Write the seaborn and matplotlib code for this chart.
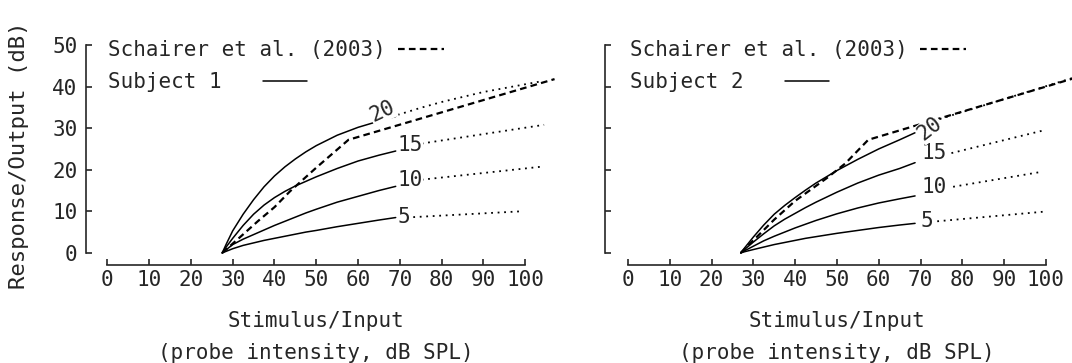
import matplotlib
matplotlib.use("Agg")
import matplotlib.pyplot as plt
import seaborn as sns
import pandas as pd
from matplotlib.lines import Line2D

# ---------------- data ----------------
levels = ["5", "10", "15", "20"]

# Subject 1 (left panel) - solid input/output curves
s1_x = [27.5, 28.5, 30, 32.5, 35, 37.5, 40, 42.5, 45, 47.5, 50, 55, 60, 65, 69]
s1_5 = [0, 0.4, 1.0, 1.8, 2.4, 3.0, 3.5, 4.0, 4.5, 5.0, 5.4, 6.3, 7.1, 7.9, 8.5]
s1_10 = [0, 0.8, 2.0, 3.3, 4.4, 5.5, 6.6, 7.6, 8.6, 9.6, 10.5, 12.2, 13.6, 15.0, 16.0]
s1_15 = [0, 1.5, 3.5, 6.6, 9.3, 11.5, 13.3, 14.8, 16.1, 17.2, 18.3, 20.3, 22.1, 23.5, 24.5]
s1_20 = [0, 2.2, 5.3, 9.3, 12.8, 15.9, 18.5, 20.7, 22.6, 24.3, 25.8, 28.3, 30.2, 31.7, 32.8]

# Subject 1 - dotted extrapolations
s1_dot5_x, s1_dot5_y = [73.2, 99.1], [8.6, 10.0]
s1_dot10_x, s1_dot10_y = [75.2, 104.5], [17.6, 20.8]
s1_dot15_x, s1_dot15_y = [75.2, 104.5], [26.3, 30.8]
s1_dot20_x, s1_dot20_y = [69.5, 75, 80.4, 90, 104], [33.2, 34.9, 36.4, 38.7, 41.3]

# Schairer et al. (2003) reference, left panel
sch1_x = [27.5, 32, 36, 40, 43.7, 50, 57.7, 107]
sch1_y = [0, 4.0, 7.6, 11.0, 14.8, 20.5, 27.2, 41.8]

# Subject 2 (right panel)
s2_x = [27, 28, 30, 32.5, 35, 37.5, 40, 42.5, 45, 47.5, 50, 55, 60, 65, 68.7]
s2_5 = [0, 0.3, 0.8, 1.4, 2.0, 2.5, 3.0, 3.5, 3.9, 4.3, 4.7, 5.4, 6.1, 6.7, 7.1]
s2_10 = [0, 0.55, 1.6, 2.9, 4.0, 5.0, 6.0, 6.9, 7.8, 8.6, 9.4, 10.8, 12.0, 13.0, 13.7]
s2_15 = [0, 0.9, 2.6, 4.6, 6.5, 8.1, 9.5, 10.9, 12.2, 13.4, 14.6, 16.8, 18.7, 20.3, 21.7]
s2_20 = [0, 1.3, 3.8, 6.7, 9.3, 11.4, 13.3, 15.1, 16.8, 18.3, 19.8, 22.5, 25.0, 27.2, 28.9]

s2_dot5_x, s2_dot5_y = [74.0, 99.4], [7.6, 9.9]
s2_dot10_x, s2_dot10_y = [77.8, 99.0], [15.9, 19.5]
s2_dot15_x, s2_dot15_y = [77.4, 100.0], [24.0, 29.6]
s2_dot20_x, s2_dot20_y = [74.6, 110], [32.2, 43.2]

sch2_x = [27, 35, 40, 47.6, 52, 57.5, 110]
sch2_y = [0, 8.0, 12.5, 18.0, 21.5, 27.2, 43.0]

# curve-label positions (x, y, rotation)
s1_lab = {"5": (70.9, 8.6, 0), "10": (72.4, 17.5, 0), "15": (72.4, 26.0, 0), "20": (65.8, 34.0, 25)}
s2_lab = {"5": (71.6, 7.6, 0), "10": (73.2, 15.9, 0), "15": (73.2, 24.0, 0), "20": (72.2, 29.8, 38)}

xticks = list(range(0, 101, 10))
yticks = list(range(0, 51, 10))

# ---------------- style ----------------
sns.set_style("ticks")
plt.rcParams["font.family"] = ["DejaVu Sans Mono", "DejaVu Sans"]
FS = 15
LW = 1.1
DOT = (0, (1.0, 2.6))
DASH = (0, (3.0, 1.9))

fig = plt.figure(figsize=(10.72, 3.63), dpi=100)
axL = fig.add_axes([0.0802, 0.2713, 0.4297, 0.6047])
axR = fig.add_axes([0.5639, 0.2713, 0.4336, 0.6047])


def long_df(x, series):
    rows = []
    for lev, ys in series.items():
        for xi, yi in zip(x, ys):
            rows.append({"x": xi, "y": yi, "level": lev})
    return pd.DataFrame(rows)


def draw_panel(ax, x, series, dots, sch_x, sch_y, labels, subject, xlim,
               show_ylab, leg_x):
    df = long_df(x, series)
    sns.lineplot(data=df, x="x", y="y", units="level", estimator=None,
                 color="black", lw=LW, ax=ax, legend=False, sort=False)
    for dx, dy in dots:
        sns.lineplot(x=dx, y=dy, color="black", lw=1.3, ls=DOT,
                     ax=ax, legend=False, sort=False)
    sns.lineplot(x=sch_x, y=sch_y, color="black", lw=1.6, ls=DASH,
                 ax=ax, legend=False, sort=False)
    for line in ax.get_lines():
        line.set_clip_on(False)
    for lev, (lx, ly, rot) in labels.items():
        ax.text(lx, ly, lev, fontsize=FS, ha="center", va="center",
                rotation=rot, rotation_mode="anchor",
                bbox=dict(facecolor="white", edgecolor="none", pad=0.5))

    ax.set_xlim(*xlim)
    ax.set_ylim(-2.8, 50)
    ax.set_xticks(xticks)
    ax.set_yticks(yticks)
    for s in ["top", "right"]:
        ax.spines[s].set_visible(False)
    ax.spines["left"].set_bounds(0, 50)
    ax.spines["bottom"].set_bounds(0, 100)
    for s in ["left", "bottom"]:
        ax.spines[s].set_linewidth(1.2)
    ax.tick_params(direction="in", length=4.5, width=1.2, labelsize=FS)
    ax.tick_params(axis="y", pad=6)
    ax.tick_params(axis="x", pad=4)
    ax.set_xlabel("Stimulus/Input\n(probe intensity, dB SPL)", fontsize=FS,
                  linespacing=1.75, labelpad=15)
    if show_ylab:
        ax.set_ylabel("Response/Output (dB)", fontsize=16)
        ax.yaxis.set_label_coords(-0.124, 0.5)
    else:
        ax.set_yticklabels([])
        ax.set_ylabel("")
    ax.grid(False)
    ax.set_facecolor("white")

    # legend: text first, sample after
    h1 = Line2D([], [], color="black", lw=1.6, ls=DASH)
    h2 = Line2D([], [], color="black", lw=LW)
    leg1 = ax.legend([h1], ["Schairer et al. (2003)"], loc="center left",
                     bbox_to_anchor=(leg_x, 0.975), frameon=False, markerfirst=False,
                     fontsize=FS, borderpad=0, borderaxespad=0,
                     handlelength=2.2, handletextpad=0.6)
    ax.add_artist(leg1)
    ax.legend([h2], [subject], loc="center left",
              bbox_to_anchor=(leg_x, 0.83), frameon=False, markerfirst=False,
              fontsize=FS, borderpad=0, borderaxespad=0,
              handlelength=2.1, handletextpad=2.0)


draw_panel(axL, s1_x, {"5": s1_5, "10": s1_10, "15": s1_15, "20": s1_20},
           [(s1_dot5_x, s1_dot5_y), (s1_dot10_x, s1_dot10_y),
            (s1_dot15_x, s1_dot15_y), (s1_dot20_x, s1_dot20_y)],
           sch1_x, sch1_y, s1_lab, "Subject 1", (-5.1, 105.1), True, 0.048)
draw_panel(axR, s2_x, {"5": s2_5, "10": s2_10, "15": s2_15, "20": s2_20},
           [(s2_dot5_x, s2_dot5_y), (s2_dot10_x, s2_dot10_y),
            (s2_dot15_x, s2_dot15_y), (s2_dot20_x, s2_dot20_y)],
           sch2_x, sch2_y, s2_lab, "Subject 2", (-5.6, 105.6), False, 0.055)

fig.savefig("out.png", dpi=100, facecolor="white")
